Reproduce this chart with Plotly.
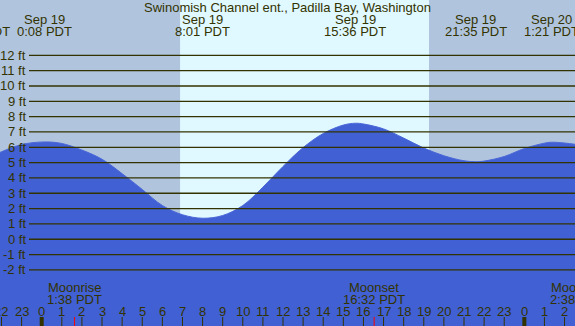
import plotly.graph_objects as go

# ---------------- data ----------------
TITLE = "Swinomish Channel ent., Padilla Bay, Washington"

# tide curve (hours from midnight Sep 19, feet)
tide_hours = [-2.1, -1, 0.13, 1, 2, 3, 4, 5, 6, 7, 8.02, 9, 10, 11, 12, 13, 14, 15,
              15.6, 16, 17, 18, 19, 20, 21, 21.58, 22, 23, 24, 25, 25.35, 26, 26.6]
tide_feet = [5.65, 6.18, 6.35, 6.25, 5.82, 5.22, 4.28, 3.25, 2.2, 1.6, 1.37, 1.55, 2.2,
             3.4, 4.75, 5.98, 6.9, 7.45, 7.57, 7.52, 7.2, 6.6, 5.95, 5.45, 5.12, 5.06,
             5.1, 5.4, 5.92, 6.27, 6.33, 6.28, 6.18]

# high / low tide labels
ext_hours = [-3.12, 0.133, 8.017, 15.6, 21.583, 25.35]
ext_dates = ["Sep 18", "Sep 19", "Sep 19", "Sep 19", "Sep 19", "Sep 20"]
ext_times = ["20:53 PDT", "0:08 PDT", "8:01 PDT", "15:36 PDT", "21:35 PDT", "1:21 PDT"]

# moon events
moon_hours = [1.633, 16.533, 26.633]
moon_names = ["Moonrise", "Moonset", "Moonrise"]
moon_times = ["1:38 PDT", "16:32 PDT", "2:38 PDT"]

# daylight
sunrise_hour = 6.88
sunset_hour = 19.26

# axis ticks
ft_ticks = list(range(-2, 13))
hour_ticks = list(range(-2, 27))
hour_labels = [str(h % 24) for h in hour_ticks]

# ---------------- style ----------------
W, H = 575, 326
NIGHT = "#b0c4de"
DAY = "#e0f8ff"
WATER = "#4160d4"
INK = "#333300"
FONT = "Liberation Sans"
FS = 13
X_RANGE = [-2.074, 26.52]
Y_RANGE = [-5.66, 15.61]
PX_PER_HOUR = W / (X_RANGE[1] - X_RANGE[0])


def fy(px):
    """pixel row -> paper fraction"""
    return 1 - px / H


def label(hour, text, ypx):
    # keep the anchor inside the axis range so plotly draws it; shift the rest
    xa = min(max(hour, X_RANGE[0]), X_RANGE[1])
    return dict(text=text, xref="x", yref="paper", x=xa, y=fy(ypx),
                xshift=(hour - xa) * PX_PER_HOUR, showarrow=False,
                xanchor="center", yanchor="middle",
                font=dict(family=FONT, size=FS, color=INK))


fig = go.Figure()

# baseline for fill
fig.add_trace(go.Scatter(x=[X_RANGE[0] - 1, X_RANGE[1] + 1], y=[Y_RANGE[0] - 1] * 2,
                         mode="lines", line=dict(width=0), hoverinfo="skip",
                         showlegend=False))
fig.add_trace(go.Scatter(x=tide_hours, y=tide_feet, mode="lines",
                         line=dict(color="#4a68d8", width=1, shape="spline", smoothing=1),
                         fill="tonexty", fillcolor=WATER, hoverinfo="skip",
                         showlegend=False))

shapes = []
# daylight band
shapes.append(dict(type="rect", xref="x", yref="paper", x0=sunrise_hour, x1=sunset_hour,
                   y0=0, y1=1, fillcolor=DAY, line=dict(width=0), layer="below"))
# horizontal foot lines
for v in ft_ticks:
    shapes.append(dict(type="line", xref="paper", yref="y", x0=29 / W, x1=1, y0=v, y1=v,
                       line=dict(color=INK, width=1.3), layer="above"))
# hour ticks
for h in hour_ticks:
    shapes.append(dict(type="line", xref="x", yref="paper", x0=h, x1=h, y0=0,
                       y1=9 / H, line=dict(color=INK, width=4 if h % 24 == 0 else 1),
                       layer="above"))
# moon ticks
for h in moon_hours:
    shapes.append(dict(type="line", xref="x", yref="paper", x0=h, x1=h, y0=0,
                       y1=9 / H, line=dict(color="red", width=1), layer="above"))

annotations = [dict(text=TITLE, xref="paper", yref="paper", x=0.5, y=fy(7.5),
                    showarrow=False, xanchor="center", yanchor="middle",
                    font=dict(family=FONT, size=FS, color=INK))]
for v in ft_ticks:
    annotations.append(dict(text=f"{v} ft", xref="paper", yref="y", x=27.5 / W, y=v,
                            showarrow=False, xanchor="right", yanchor="middle",
                            font=dict(family=FONT, size=FS, color=INK)))
for h, d, t in zip(ext_hours, ext_dates, ext_times):
    annotations.append(label(h, d, 20))
    annotations.append(label(h, t, 32))
for h, n, t in zip(moon_hours, moon_names, moon_times):
    annotations.append(label(h, n, 287.5))
    annotations.append(label(h, t, 299.5))
for h, t in zip(hour_ticks, hour_labels):
    annotations.append(label(h, t, 311))

fig.update_layout(
    width=W, height=H, margin=dict(l=0, r=0, t=0, b=0),
    paper_bgcolor=NIGHT, plot_bgcolor=NIGHT,
    xaxis=dict(range=X_RANGE, visible=False, fixedrange=True),
    yaxis=dict(range=Y_RANGE, visible=False, fixedrange=True),
    shapes=shapes, annotations=annotations, showlegend=False,
)

fig.write_html("out.html", config={"displayModeBar": False},
               post_script="document.body.style.margin='0';document.body.style.overflow='hidden';")
